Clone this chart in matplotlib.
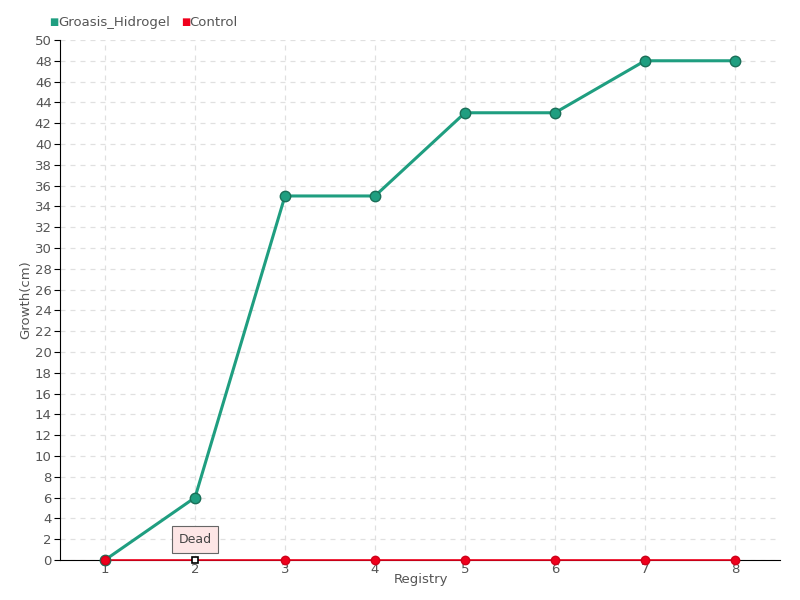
import matplotlib
matplotlib.use("Agg")
import matplotlib.pyplot as plt
import numpy as np

registry = [1, 2, 3, 4, 5, 6, 7, 8]
groasis = [0, 6, 35, 35, 43, 43, 48, 48]
control = [0, 0, 0, 0, 0, 0, 0, 0]
dead_index = 1
yticks = list(range(0, 52, 2))

plt.rcParams['font.family'] = ['DejaVu Sans']
fig = plt.figure(figsize=(8, 6), dpi=100)
ax = fig.add_axes([0.075, 0.0667, 0.9, 0.8667])

green = '#1f9e80'
red = '#f0001c'
txt = '#555555'

ax.plot(registry, control, color=red, lw=1.2, zorder=5, clip_on=False)
cm = [i for i in range(len(registry)) if i != dead_index]
ax.plot([registry[i] for i in cm], [control[i] for i in cm], 'o', ms=6,
        color=red, mec='#d0001a', zorder=6, clip_on=False)
ax.plot([registry[dead_index]], [control[dead_index]], 's', ms=4.5,
        mfc='white', mec='black', mew=1.2, zorder=8, clip_on=False)
ax.plot(registry, groasis, color=green, lw=2.2, zorder=6, clip_on=False)
ax.plot(registry, groasis, 'o', ms=7.5, color=green, mec='#1a6f58', mew=1.0,
        zorder=7, clip_on=False)
ax.plot([registry[0]], [control[0]], 'o', ms=6, color=red, mec='#d0001a',
        zorder=8, clip_on=False)

ax.annotate('Dead', xy=(registry[dead_index], control[dead_index]),
            xytext=(registry[dead_index], 2.0), ha='center', va='center',
            fontsize=9, color='#444444',
            bbox=dict(boxstyle='square,pad=0.55', fc='#fde6e6', ec='#666666', lw=0.8),
            zorder=9)

ax.set_xlim(0.5, 8.5)
ax.set_ylim(0, 50)
ax.set_xticks(registry)
ax.set_yticks(yticks)
ax.tick_params(axis='both', labelsize=9.5, colors=txt, length=4)
ax.tick_params(axis='x', length=0, pad=2)
ax.tick_params(axis='y', color='black', pad=2)
ax.grid(True, ls=(0, (4, 4)), color='#e0e0e0', lw=0.9)
ax.set_axisbelow(True)
for s in ['top', 'right']:
    ax.spines[s].set_visible(False)
ax.spines['left'].set_color('black')
ax.spines['bottom'].set_color('black')
ax.set_xlabel('Registry', fontsize=9.5, color=txt, labelpad=1)
ax.xaxis.set_label_coords(0.502, -0.025)
ax.set_ylabel('Growth(cm)', fontsize=9.5, color=txt, labelpad=2)

fig.text(0.062, 0.963, '■', color=green, fontsize=7, va='center')
fig.text(0.073, 0.963, 'Groasis_Hidrogel', color=txt, fontsize=9.5, va='center')
fig.text(0.226, 0.963, '■', color=red, fontsize=7, va='center')
fig.text(0.237, 0.963, 'Control', color=txt, fontsize=9.5, va='center')

fig.savefig('out.png', dpi=100)
